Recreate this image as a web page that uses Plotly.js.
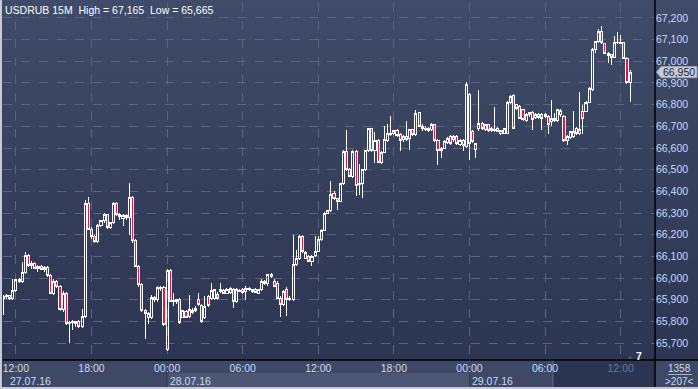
<!DOCTYPE html>
<html><head><meta charset="utf-8">
<script src="https://cdn.plot.ly/plotly-3.0.1.min.js"></script>
<style>
html,body{margin:0;padding:0;background:#c6cbd3;overflow:hidden;}
#wrap{position:relative;width:698px;height:389px;}
#bg{position:absolute;left:2px;top:0;width:696px;height:387px;background:linear-gradient(#3f4b68 0px,#2c3551 360px,#2c3551 387px);}
#chart{position:absolute;left:0;top:0;width:698px;height:389px;}
#chart .boxlayer path{shape-rendering:crispEdges;}
</style></head>
<body><div id="wrap"><div id="bg"></div><div id="chart"></div></div>
<script>
// ---- data: USDRUB 15M candles, first bar 27.07.16 11:00 ----
const symbolTitle = 'USDRUB 15M  High = 67,165  Low = 65,665';
const firstBar = '2016-07-27T11:00:00Z';
const barMinutes = 15;
const opens = [
65905,65915,65918,65905,65944,65992,65983,66026,66103,66060,66069,66045,66052,66040,66050,66013,65930,65985,65962,65856,
65930,65790,65795,65790,65798,65775,65821,66345,66226,66190,66168,66241,66264,66291,66234,66257,66345,66291,66275,66288,
66278,66372,66172,66054,65970,65850,65820,65820,65910,65903,65950,65958,65670,66035,65892,65892,65903,65820,65846,65823,
65842,65851,65900,65872,65820,65915,65908,65908,65926,65937,65942,65931,65935,65949,65892,65942,65949,65938,65954,65938,
65949,65931,65946,65985,65974,66008,65985,65977,65908,65877,65949,65900,65900,66062,66092,66190,66092,66100,66077,66103,
66123,66177,66220,66300,66312,66392,66365,66354,66434,66585,66503,66469,66585,66430,66438,66500,66588,66688,66589,66634,
66534,66580,66634,66669,66666,66682,66662,66638,66654,66642,66685,66662,66762,66700,66692,66682,66685,66708,66635,66600,
66600,66626,66651,66638,66651,66615,66634,66608,66846,66677,66592,66692,66712,66685,66708,66680,66685,66692,66669,66669,
66669,66812,66842,66800,66792,66777,66726,66754,66762,66742,66754,66754,66746,66746,66723,66726,66726,66754,66746,66634,
66649,66654,66689,66665,66769,66769,66812,66870,67054,67092,67138,67080,67038,67031,67019,67085,67089,67085,67015,66900];
const highs = [
65920,65925,65922,65995,65998,66000,66072,66118,66110,66078,66072,66060,66062,66055,66055,66020,65995,65990,65968,65940,
65935,65800,65808,65802,65805,65856,66360,66372,66235,66200,66250,66270,66300,66295,66260,66350,66350,66300,66295,66295,
66438,66380,66180,66060,65975,65858,65845,65920,65915,65965,65962,65962,66040,66040,65931,65905,65910,65855,65852,65923,
65860,65870,65931,65880,65915,65920,65977,65950,65935,65977,65948,65952,65960,65955,65955,65950,65955,65962,65960,65950,
65955,65950,65995,65990,66020,66023,65995,65985,65915,65945,65960,65915,66200,66131,66200,66200,66125,66105,66105,66192,
66196,66225,66305,66315,66446,66400,66370,66440,66590,66685,66510,66590,66590,66528,66505,66592,66692,66692,66672,66640,
66585,66700,66711,66749,66685,66688,66668,66660,66723,66690,66690,66777,66768,66712,66700,66695,66715,66712,66640,66605,
66635,66650,66660,66660,66658,66640,66640,66905,66852,66685,66623,66869,66718,66712,66712,66695,66788,66698,66685,66692,
66815,66846,66850,66805,66798,66782,66760,66765,66770,66760,66760,66760,66760,66752,66823,66760,66782,66782,66752,66660,
66680,66769,66695,66860,66800,66815,66880,67060,67095,67150,67165,67085,67042,67035,67115,67135,67120,67090,67020,66960];
const lows = [
65830,65905,65900,65900,65935,65978,65975,66020,66050,66040,66040,66030,66035,66028,66005,65925,65920,65955,65850,65845,
65785,65702,65760,65775,65770,65770,65815,66220,66180,66160,66160,66235,66255,66225,66225,66250,66285,66270,66240,66270,
66200,66160,66050,65960,65845,65720,65790,65810,65890,65890,65940,65780,65665,65888,65869,65880,65790,65815,65815,65818,
65835,65845,65870,65795,65810,65865,65900,65900,65900,65930,65925,65925,65928,65862,65885,65935,65928,65897,65940,65930,
65930,65925,65940,65970,65965,66000,65958,65905,65820,65870,65825,65895,65895,66055,66085,66115,66088,66072,66054,66098,
66118,66170,66215,66295,66305,66360,66312,66350,66430,66495,66465,66460,66377,66385,66369,66495,66580,66580,66531,66530,
66528,66575,66628,66655,66660,66650,66585,66630,66632,66592,66655,66655,66695,66680,66680,66675,66680,66630,66523,66555,
66595,66620,66615,66630,66615,66610,66585,66600,66546,66625,66554,66680,66685,66680,66675,66675,66675,66672,66662,66665,
66665,66805,66688,66775,66735,66725,66720,66745,66685,66735,66735,66685,66740,66665,66700,66720,66720,66745,66630,66616,
66640,66645,66660,66660,66665,66765,66808,66865,67040,67085,67080,67035,66992,66985,67015,67078,67078,67010,66895,66812];
const closes = [
65915,65918,65905,65944,65992,65983,66026,66103,66060,66069,66045,66052,66040,66050,66013,65930,65985,65962,65856,65930,
65790,65795,65800,65798,65775,65821,66345,66226,66190,66168,66241,66264,66291,66234,66257,66345,66291,66283,66288,66278,
66372,66172,66054,65970,65849,65838,65838,65910,65903,65956,65958,65787,66035,65892,65897,65900,65795,65849,65820,65854,
65851,65860,65877,65800,65869,65872,65942,65946,65908,65949,65931,65946,65954,65892,65949,65938,65934,65954,65946,65946,
65934,65946,65985,65974,66015,66018,65962,65908,65877,65938,65900,65908,66062,66092,66190,66123,66118,66077,66100,66123,
66177,66220,66300,66312,66385,66365,66354,66434,66585,66500,66469,66585,66426,66438,66500,66588,66688,66589,66634,66534,
66580,66638,66669,66662,66682,66657,66635,66654,66638,66685,66662,66757,66700,66688,66685,66688,66708,66635,66589,66589,
66631,66642,66623,66651,66623,66635,66612,66895,66623,66631,66623,66712,66689,66708,66680,66692,66680,66677,66680,66689,
66812,66839,66692,66782,66738,66731,66754,66762,66731,66754,66742,66735,66754,66708,66738,66734,66777,66772,66634,66654,
66677,66677,66665,66685,66735,66812,66874,67054,67092,67138,67085,67038,67028,67019,67089,67089,67080,67015,66900,66950];
const tickTimes = ['2016-07-27 12:00','2016-07-27 18:00','2016-07-28 00:00','2016-07-28 06:00','2016-07-28 12:00',
                   '2016-07-28 18:00','2016-07-29 00:00','2016-07-29 06:00','2016-07-29 12:00'];
const tickLabels = ['12:00','18:00','00:00','06:00','12:00','18:00','00:00','06:00','12:00'];
const dateStarts = ['2016-07-27 00:00','2016-07-28 00:00','2016-07-29 00:00'];
const dateLabels = ['27.07.16','28.07.16','29.07.16'];
const barsTotal = '1358';
const barsShown = '>207<';
const markerCount = '7';

// ---- build ----
const t0 = Date.parse(firstBar);
const step = barMinutes * 60000;
const ts = ms => new Date(ms).toISOString().slice(0,19).replace('T',' ');
const times = opens.map((_, i) => ts(t0 + i * step));
const lastClose = closes[closes.length - 1];
const fmtPrice = v => Math.round(v).toLocaleString('en-US');

const TXT = '#c9dbf5';
const FONT = '"Liberation Sans", Arial, sans-serif';
const W = 698, H = 389, ML = 3, MR = 43, MT = 3, MB = 29;
const PW = W - ML - MR, PH = H - MT - MB;
const px2x = px => (px - ML) / PW;        // paper x from pixel
const py2y = py => (H - MB - py) / PH;    // paper y from pixel

const trace = {
  type: 'candlestick', x: times, open: opens, high: highs, low: lows, close: closes,
  increasing: {line: {color: '#ffffff', width: 1}, fillcolor: 'rgba(0,0,0,0)'},
  decreasing: {line: {color: '#ffffff', width: 1}, fillcolor: '#e3173f'},
  whiskerwidth: 0, hoverinfo: 'skip', showlegend: false
};

const ticktext = tickLabels.map((s, i) => i === tickLabels.length - 1 ? '<span style="color:#6a7692">' + s + '</span>' : s);

const darkStart = ts(t0 + 174.5 * step);
const shapes = [
  {type:'rect', xref:'paper', yref:'paper', x0:0, x1:1, y0:0, y1:py2y(373), fillcolor:'#3e4a65', line:{width:0}, layer:'below'},
  {type:'rect', xref:'paper', yref:'paper', x0:0, x1:px2x(166), y0:py2y(373), y1:py2y(387), fillcolor:'#3e4a65', line:{width:0}, layer:'below'},
  {type:'rect', xref:'x', yref:'paper', x0:dateStarts[1], x1:dateStarts[2], y0:py2y(373), y1:py2y(387), fillcolor:'#4b5774', line:{width:0}, layer:'below'},
  {type:'rect', xref:'x', yref:'paper', x0:dateStarts[2], x1:darkStart, y0:py2y(373), y1:py2y(387), fillcolor:'#3e4a65', line:{width:0}, layer:'below'},
  {type:'rect', xref:'x', yref:'paper', x0:darkStart, x1:ts(t0 + 210*step), y0:0, y1:py2y(387), fillcolor:'#2b3450', line:{width:0}, layer:'below'},
  {type:'line', xref:'x', yref:'paper', x0:darkStart, x1:darkStart, y0:0, y1:py2y(387), line:{color:'#66728d', width:1}, layer:'below'},
  {type:'line', xref:'x', yref:'paper', x0:dateStarts[1], x1:dateStarts[1], y0:py2y(373), y1:py2y(387), line:{color:'#344059', width:1}, layer:'below'},
  {type:'line', xref:'x', yref:'paper', x0:dateStarts[2], x1:dateStarts[2], y0:py2y(373), y1:py2y(387), line:{color:'#344059', width:1}, layer:'below'},
  {type:'rect', xref:'paper', yref:'paper', x0:1, x1:px2x(698), y0:0, y1:py2y(387), fillcolor:'#3e4a65', line:{width:0}, layer:'below'},
  {type:'line', xref:'paper', yref:'paper', x0:px2x(668), x1:px2x(692), y0:py2y(374.5), y1:py2y(374.5), line:{color:'#aab4c6', width:1}},
  {type:'line', xref:'paper', yref:'paper', x0:0, x1:px2x(698), y0:0, y1:0, line:{color:'#000000', width:1.5}},
  {type:'line', xref:'paper', yref:'paper', x0:1, x1:1, y0:py2y(0), y1:py2y(387), line:{color:'#000000', width:1.5}},
  {type:'path', xref:'paper', yref:'y',
   path:'M ' + px2x(656.5) + ' ' + lastClose + ' L ' + px2x(661) + ' ' + (lastClose + 26) + ' L ' + px2x(697) + ' ' + (lastClose + 26) +
        ' L ' + px2x(697) + ' ' + (lastClose - 26) + ' L ' + px2x(661) + ' ' + (lastClose - 26) + ' Z',
   fillcolor:'#c7ccd4', line:{color:'#9aa2b0', width:1}}
];

const annotations = [
  {xref:'paper', yref:'paper', x:0, y:1, xanchor:'left', yanchor:'top', xshift:0, yshift:1, showarrow:false,
   text:symbolTitle, font:{family:FONT, size:10.5, color:'#ffffff'}},
  {xref:'paper', yref:'paper', x:0, y:py2y(380.5), xanchor:'left', yanchor:'middle', xshift:5, showarrow:false,
   text:dateLabels[0], font:{family:FONT, size:10.5, color:TXT}},
  {xref:'x', yref:'paper', x:dateStarts[1], y:py2y(380.5), xanchor:'left', yanchor:'middle', xshift:1, showarrow:false,
   text:dateLabels[1], font:{family:FONT, size:10.5, color:TXT}},
  {xref:'x', yref:'paper', x:dateStarts[2], y:py2y(380.5), xanchor:'left', yanchor:'middle', xshift:1, showarrow:false,
   text:dateLabels[2], font:{family:FONT, size:10.5, color:TXT}},
  {xref:'paper', yref:'paper', x:px2x(680), y:py2y(368), xanchor:'center', yanchor:'middle', showarrow:false,
   text:barsTotal, font:{family:FONT, size:10, color:TXT}},
  {xref:'paper', yref:'paper', x:px2x(679), y:py2y(381), xanchor:'center', yanchor:'middle', showarrow:false,
   text:barsShown.replace(/</g,'&lt;').replace(/>/g,'&gt;'), font:{family:FONT, size:10, color:TXT}},
  {xref:'paper', yref:'paper', x:px2x(639), y:py2y(355.5), xanchor:'center', yanchor:'middle', showarrow:false,
   text:'<b>' + markerCount + '</b>', font:{family:FONT, size:10.5, color:'#ffffff'}},
  {xref:'paper', yref:'paper', x:px2x(630), y:py2y(356.5), xanchor:'center', yanchor:'middle', showarrow:false,
   text:'▲', font:{family:FONT, size:6, color:'#515c78'}},
  {xref:'paper', yref:'y', x:px2x(661), y:lastClose, xanchor:'left', yanchor:'middle', showarrow:false,
   text:fmtPrice(lastClose), font:{family:FONT, size:10.5, color:'#1c253a'}}
];

const layout = {
  width: W, height: H,
  margin: {l: ML, r: MR, t: MT, b: MB, pad: 0},
  paper_bgcolor: 'rgba(0,0,0,0)', plot_bgcolor: 'rgba(0,0,0,0)',
  showlegend: false, boxgap: 0.05, dragmode: false,
  font: {family: FONT, size: 10.5, color: TXT},
  xaxis: {
    type: 'date', range: [ts(t0 - 0.1*step), ts(t0 + 206.9*step)],
    rangeslider: {visible: false},
    tickmode: 'array', tickvals: tickTimes, ticktext: ticktext,
    showgrid: true, gridcolor: '#59657f', griddash: 'dash', gridwidth: 1,
    zeroline: false, showline: false, ticks: '', ticklen: 0,
    tickfont: {family: FONT, size: 10.5, color: TXT}, fixedrange: true
  },
  yaxis: {
    side: 'right', range: [65622, 67269], tick0: 0, dtick: 100, tickformat: ',d',
    showgrid: true, gridcolor: '#59657f', griddash: 'dash', gridwidth: 1,
    zeroline: false, showline: false, ticks: '', ticklen: 0,
    tickfont: {family: FONT, size: 10.5, color: TXT}, fixedrange: true
  },
  shapes: shapes, annotations: annotations
};

Plotly.newPlot('chart', [trace], layout, {staticPlot: true, displayModeBar: false});
</script>
</body></html>
